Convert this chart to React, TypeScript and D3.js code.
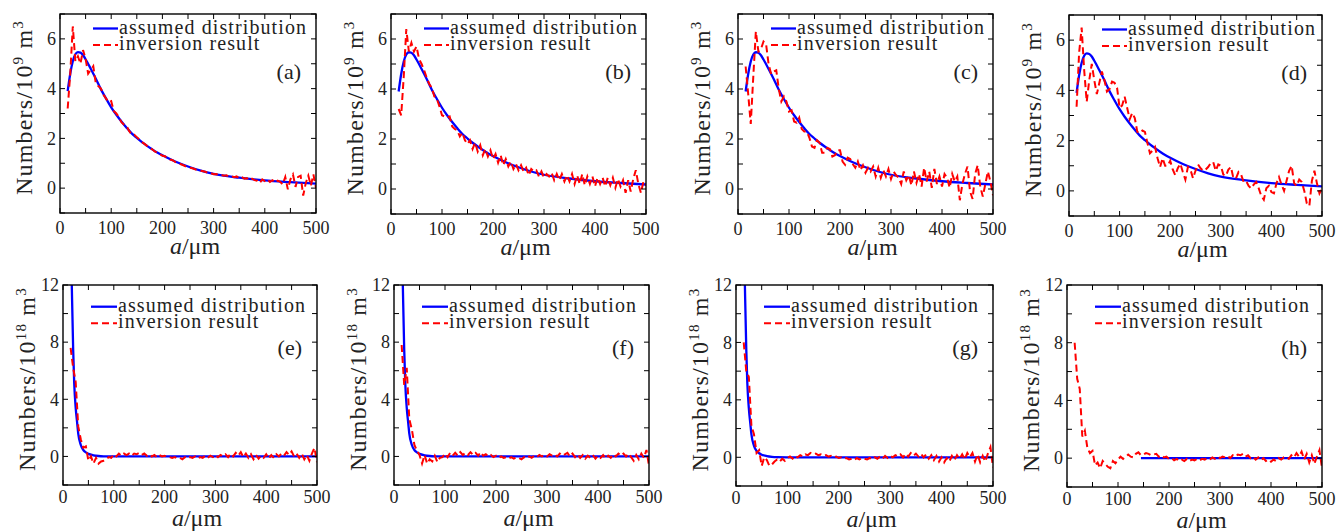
import React from 'react';
import * as d3 from 'd3';

// radius grid (um) of the inversion results
const sizeGrid = [
  15, 20, 25, 30, 35, 40, 45, 50, 55, 60,
  65, 70, 75, 80, 85, 90, 95, 100, 105, 110,
  115, 120, 125, 130, 135, 140, 145, 150, 155, 160,
  165, 170, 175, 180, 185, 190, 195, 200, 205, 210,
  215, 220, 225, 230, 235, 240, 245, 250, 255, 260,
  265, 270, 275, 280, 285, 290, 295, 300, 305, 310,
  315, 320, 325, 330, 335, 340, 345, 350, 355, 360,
  365, 370, 375, 380, 385, 390, 395, 400, 405, 410,
  415, 420, 425, 430, 435, 440, 445, 450, 455, 460,
  465, 470, 475, 480, 485, 490, 495, 500,
];

// assumed distributions
const topAssumedX = [15, 20, 25, 30, 35, 40, 45, 50, 60, 70, 80, 90, 100, 110, 120, 130, 140, 150, 160, 170, 180, 190, 200, 225, 250, 275, 300, 350, 400, 450, 500];
const topAssumed = [3.9, 4.6, 5.1, 5.38, 5.47, 5.45, 5.35, 5.18, 4.8, 4.4, 3.97, 3.6, 3.25, 2.95, 2.68, 2.43, 2.2, 2.02, 1.85, 1.7, 1.56, 1.43, 1.32, 1.07, 0.87, 0.7, 0.57, 0.42, 0.31, 0.24, 0.18];
const bottomAssumedX = [15, 17, 20, 22, 25, 28, 30, 35, 40, 45, 50, 60, 70, 80, 100, 150, 200, 300, 400, 500];
const bottomAssumed = [16, 12.5, 7.5, 5.2, 3.4, 2.3, 1.6, 0.8, 0.45, 0.28, 0.18, 0.08, 0.03, 0.01, 0, 0, 0, 0, 0, 0];
const hAssumedX = [145, 500];
const hAssumed = [0, 0];

// inversion results
const invA = [
  3.2, 4.6, 6.5, 5.1, 5.3, 5.0, 5.55, 5.2, 4.6, 4.75,
  4.9, 4.2, 4.1, 4.0, 3.75, 3.6, 3.45, 3.5, 3.1, 3.0,
  2.85, 2.65, 2.55, 2.5, 2.3, 2.15, 2.15, 2.05, 1.95, 1.85,
  1.78, 1.7, 1.62, 1.56, 1.48, 1.43, 1.37, 1.3, 1.28, 1.2,
  1.15, 1.12, 1.05, 1.0, 0.97, 0.93, 0.88, 0.86, 0.82, 0.79,
  0.75, 0.72, 0.7, 0.68, 0.65, 0.6, 0.6, 0.56, 0.57, 0.52,
  0.53, 0.5, 0.52, 0.46, 0.48, 0.44, 0.47, 0.4, 0.45, 0.38,
  0.4, 0.32, 0.38, 0.32, 0.3, 0.2, 0.35, 0.28, 0.35, 0.25,
  0.32, 0.22, 0.3, 0.25, 0.15, 0.45, -0.05, 0.35, 0.55, 0.05,
  0.45, 0.5, -0.3, 0.2, 0.5, 0.1, 0.55, 0.0,
];
const invB = [
  3.2, 2.95, 4.5, 6.4, 5.5, 5.85, 5.5, 5.7, 5.2, 5.0,
  4.75, 4.45, 4.2, 4.05, 3.7, 3.6, 3.3, 2.95, 2.9, 2.85,
  2.9, 2.5, 2.4, 2.35, 2.1, 2.25, 1.95, 1.8, 1.95, 1.6,
  1.85, 1.5, 1.75, 1.35, 1.6, 1.3, 1.55, 1.2, 1.4, 1.05,
  1.35, 0.95, 1.2, 0.9, 1.1, 0.8, 1.0, 0.75, 0.95, 0.7,
  0.85, 0.55, 0.8, 0.7, 0.75, 0.5, 0.7, 0.45, 0.6, 0.5,
  0.65, 0.35, 0.6, 0.35, 0.6, 0.3, 0.55, 0.3, 0.6, 0.2,
  0.55, 0.2, 0.6, 0.15, 0.5, 0.2, 0.5, 0.1, 0.45, 0.2,
  0.45, 0.1, 0.45, 0.15, 0.45, 0.05, 0.4, 0.1, 0.35, -0.15,
  0.35, -0.1, 0.4, 0.75, 0.2, -0.15, 0.3, 0.15,
];
const invC = [
  4.9, 3.8, 2.6, 4.5, 6.3, 5.5, 5.6, 5.9, 5.8, 5.0,
  4.6, 4.7, 4.75, 4.0, 3.5, 3.7, 3.5, 3.1, 3.15, 2.7,
  2.65, 2.85, 2.4, 2.3, 2.3, 2.05, 1.7, 1.65, 1.95, 1.85,
  1.45, 1.45, 1.65, 1.6, 1.3, 1.35, 1.55, 1.55, 1.1, 0.97,
  1.25, 1.2, 1.0, 0.85, 1.1, 0.75, 0.95, 0.65, 0.85, 0.7,
  0.9, 0.5, 0.85, 0.45, 0.75, 0.5, 0.8, 0.4, 0.7, 0.55,
  0.45, 0.2, 0.7, 0.35, 0.55, 0.15, 0.7, 0.25, 0.6, 0.1,
  0.85, 0.3, 0.7, 0.05, 0.8, 0.2, 0.5, 0.1, 0.6, 0.45,
  0.05, 0.6, 0.3, 0.5, -0.45, 0.2, 0.6, 0.9, -0.1, -0.4,
  0.6, 0.95, 0.1, -0.3, 0.2, 0.7, 0.3, -0.25,
];
const invD = [
  3.35, 5.5, 6.5, 4.8, 3.55, 4.4, 5.05, 4.4, 3.85, 4.3,
  4.75, 4.4, 3.95, 4.05, 4.35, 4.3, 4.1, 3.3, 3.4, 3.75,
  3.3, 2.85, 3.1, 2.9, 2.35, 2.3, 2.4, 2.35, 1.9, 1.5,
  1.6, 1.75, 1.3, 0.95, 1.3, 1.0, 1.0, 1.2, 0.85, 0.62,
  0.9, 1.08, 0.75, 0.45, 0.95, 0.85, 0.5, 0.8, 1.05, 0.9,
  0.8, 0.85, 0.95, 1.1, 1.15, 0.8, 1.05, 1.0, 0.65, 0.6,
  0.85, 0.95, 0.5, 0.5, 0.75, 0.65, 0.36, 0.4, 0.2, 0.1,
  0.25, 0.35, 0.1, -0.2, -0.35, 0.1, 0.2, -0.05, -0.1, 0.3,
  0.55, 0.25, 0.0, 0.4, 0.8, 1.0, 0.3, 0.2, 0.45, 0.35,
  0.0, -0.5, -0.6, 0.4, 0.8, 0.3, -0.1, 0.1,
];
const invE = [
  7.6, 6.2, 5.2, 2.1, 1.2, 0.6, 0.7, -0.3, 0.0, -0.5,
  -0.1, -0.5, -0.35, -0.3, -0.2, -0.05, -0.1, 0.15, 0.0, 0.2,
  0.05, 0.2, 0.1, 0.2, 0.05, 0.2, 0.15, 0.25, 0.1, 0.2,
  0.05, 0.15, 0.0, 0.1, -0.05, 0.1, 0.0, 0.05, -0.05, -0.05,
  -0.1, -0.05, -0.15, -0.1, -0.2, -0.05, -0.15, -0.05, -0.1, 0.0,
  -0.15, -0.05, -0.1, 0.05, -0.1, 0.05, -0.05, 0.1, -0.05, 0.1,
  0.0, 0.15, -0.05, 0.2, 0.0, 0.25, 0.05, 0.3, -0.05, 0.2,
  -0.1, 0.15, -0.2, 0.1, -0.15, 0.05, -0.1, 0.15, -0.15, 0.1,
  -0.1, 0.15, 0.0, 0.2, 0.05, 0.3, 0.1, 0.35, 0.0, 0.2,
  -0.1, 0.2, -0.2, 0.1, -0.3, 0.2, 0.6, -0.4,
];
const invF = [
  7.8, 5.0, 6.2, 2.6, 1.9, 0.8, 0.4, 0.1, -0.5, 0.1,
  -0.5, -0.2, -0.35, 0.05, -0.4, -0.1, -0.05, 0.2, -0.05, 0.25,
  0.05, 0.25, 0.05, 0.3, 0.1, 0.25, 0.1, 0.3, 0.1, 0.25,
  0.05, 0.3, 0.05, 0.15, 0.0, 0.1, -0.05, 0.05, -0.1, 0.0,
  -0.1, -0.05, -0.15, -0.05, -0.15, -0.05, -0.1, -0.2, -0.05, -0.15,
  0.0, -0.1, 0.05, -0.05, 0.1, 0.0, 0.1, 0.0, 0.15, 0.05,
  0.15, 0.0, 0.2, 0.05, 0.15, 0.25, 0.0, 0.2, -0.05, 0.15,
  -0.1, 0.1, -0.15, 0.05, -0.1, 0.1, -0.15, 0.05, -0.1, 0.1,
  -0.15, 0.05, -0.1, 0.15, 0.0, 0.2, 0.05, 0.2, 0.0, 0.2,
  -0.05, -0.3, 0.1, -0.2, 0.2, -0.1, 0.45, -0.65,
];
const invG = [
  8.0, 6.0, 5.6, 2.2, 1.6, 0.3, 0.5, -0.6, 0.0, -0.2,
  -0.6, -0.5, -0.3, -0.15, -0.3, -0.1, -0.25, -0.05, 0.05, -0.1,
  0.1, 0.0, 0.15, 0.05, 0.2, 0.15, 0.3, 0.2, 0.25, 0.15,
  0.2, 0.1, 0.15, 0.05, 0.1, 0.0, 0.05, -0.05, 0.0, -0.1,
  -0.05, -0.15, -0.1, -0.2, -0.05, -0.15, -0.05, -0.1, -0.15, -0.05,
  -0.15, 0.0, -0.1, 0.05, -0.1, 0.1, -0.05, 0.1, 0.0, 0.15,
  0.05, 0.2, 0.0, 0.25, 0.05, 0.3, 0.1, 0.25, 0.05, 0.25,
  0.0, 0.2, -0.1, 0.15, -0.2, 0.1, -0.3, 0.0, -0.35, -0.05,
  -0.3, 0.1, -0.2, 0.15, -0.1, 0.2, -0.15, 0.3, 0.0, 0.3,
  -0.3, 0.2, -0.35, 0.1, -0.3, 0.25, 0.7, -0.7,
];
const invH = [
  8.0, 5.5, 4.8, 1.5, 1.9, 0.7, 0.35, 0.5, -0.5, -0.3,
  -0.7, -0.2, -0.4, -0.6, -0.7, -0.2, -0.35, -0.1, 0.1, -0.05,
  0.1, 0.25, 0.1, 0.05, 0.3, 0.4, 0.2, 0.25, 0.35, 0.3,
  0.2, 0.25, 0.3, 0.1, 0.2, 0.05, 0.1, -0.05, 0.0, -0.15,
  -0.05, -0.2, -0.1, -0.2, -0.05, -0.2, -0.1, -0.15, -0.05, -0.15,
  -0.05, -0.1, 0.0, -0.1, 0.05, -0.05, 0.1, 0.0, 0.1, 0.05,
  0.15, 0.0, 0.2, 0.1, 0.25, 0.2, 0.3, 0.1, 0.2, 0.0,
  0.1, -0.1, 0.05, -0.15, 0.0, -0.2, -0.1, -0.25, -0.1, -0.2,
  0.0, -0.1, 0.05, 0.1, -0.05, 0.2, 0.05, 0.35, 0.1, 0.45,
  -0.1, 0.3, -0.3, 0.2, -0.4, 0.1, 0.55, -0.7,
];

const xTickLabels = [0, 100, 200, 300, 400, 500];
const topYTickLabels = [0, 2, 4, 6];
const bottomYTickLabels = [0, 4, 8, 12];
const legendLabels = ['assumed distribution', 'inversion result'];

const FONT = '"Liberation Serif", Tinos, "Times New Roman", "DejaVu Serif", "Noto Serif", serif';
const BLUE = '#0000ff';
const RED = '#ff0000';

type PanelSpec = {
  letter: string;
  box: [number, number, number, number];
  row: number;
  ax: number[];
  ay: number[];
  inv: number[];
};

const panels: PanelSpec[] = [
  { letter: 'a', box: [60, 14, 316, 213], row: 0, ax: topAssumedX, ay: topAssumed, inv: invA },
  { letter: 'b', box: [391, 14, 646, 214], row: 0, ax: topAssumedX, ay: topAssumed, inv: invB },
  { letter: 'c', box: [738, 14, 993, 214], row: 0, ax: topAssumedX, ay: topAssumed, inv: invC },
  { letter: 'd', box: [1069, 15, 1322, 216], row: 0, ax: topAssumedX, ay: topAssumed, inv: invD },
  { letter: 'e', box: [63, 285, 317, 485], row: 1, ax: bottomAssumedX, ay: bottomAssumed, inv: invE },
  { letter: 'f', box: [394, 285, 649, 485], row: 1, ax: bottomAssumedX, ay: bottomAssumed, inv: invF },
  { letter: 'g', box: [736, 285, 993, 486], row: 1, ax: bottomAssumedX, ay: bottomAssumed, inv: invG },
  { letter: 'h', box: [1067, 285, 1322, 487], row: 1, ax: hAssumedX, ay: hAssumed, inv: invH },
];

const Panel = ({ p }: { p: PanelSpec }) => {
  const [l, t, r, b] = p.box;
  const top = p.row === 0;
  const x = d3.scaleLinear().domain([0, 500]).range([l, r]);
  const y = d3.scaleLinear().domain(top ? [-1, 7] : [-2, 12]).range([b, t]);
  const xTicks = x.ticks(10);
  const yTicks = top ? y.ticks(8) : y.ticks(7);
  const yLabels = top ? topYTickLabels : bottomYTickLabels;
  const tk = 5;

  const blue = d3.line<number>()
    .x((_, i) => x(p.ax[i]))
    .y(d => y(d))
    .curve(d3.curveMonotoneX)(p.ay);
  const n = Math.min(sizeGrid.length, p.inv.length);
  const red = d3.line<number>()
    .x((_, i) => x(sizeGrid[i]))
    .y(d => y(d))(p.inv.slice(0, n));

  const lg = top
    ? { x0: l + 33, x1: l + 58, tx: l + 59, l1: t + 14.5, l2: t + 31, b1: t + 19.5, b2: t + 36 }
    : { x0: l + 28, x1: l + 54, tx: l + 55, l1: t + 21.7, l2: t + 38.3, b1: t + 26.7, b2: t + 43.3 };
  const clipId = `clip-${p.letter}`;

  return (
    <g fill="#222">
      <defs>
        <clipPath id={clipId}>
          <rect x={l} y={t} width={r - l} height={b - t} />
        </clipPath>
      </defs>

      <g clipPath={`url(#${clipId})`}>
        <path d={blue || ''} fill="none" stroke={BLUE} strokeWidth={2.3} />
        <path d={red || ''} fill="none" stroke={RED} strokeWidth={2} strokeDasharray="7,4" />
      </g>

      {/* ticks on all sides, inward */}
      {xTicks.map(v => (
        <g key={`xt${v}`} stroke="#000" strokeWidth={1}>
          <line x1={x(v)} x2={x(v)} y1={b} y2={b - tk} />
          <line x1={x(v)} x2={x(v)} y1={t} y2={t + tk} />
        </g>
      ))}
      {yTicks.map(v => (
        <g key={`yt${v}`} stroke="#000" strokeWidth={1}>
          <line x1={l} x2={l + tk} y1={y(v)} y2={y(v)} />
          <line x1={r} x2={r - tk} y1={y(v)} y2={y(v)} />
        </g>
      ))}
      <rect x={l} y={t} width={r - l} height={b - t} fill="none" stroke="#000" strokeWidth={1.4} />

      {xTickLabels.map(v => (
        <text key={`xl${v}`} x={x(v)} y={b + (top ? 21 : 18)} textAnchor="middle" fontSize={18}>{v}</text>
      ))}
      {yLabels.map(v => (
        <text key={`yl${v}`} x={l - 4} y={y(v)} dy="0.35em" textAnchor="end" fontSize={18}>{v}</text>
      ))}

      {/* legend */}
      <line x1={lg.x0} x2={lg.x1} y1={lg.l1} y2={lg.l1} stroke={BLUE} strokeWidth={2.3} />
      <line x1={lg.x0} x2={lg.x1} y1={lg.l2} y2={lg.l2} stroke={RED} strokeWidth={2} strokeDasharray="7,4" />
      <text x={lg.tx} y={lg.b1} fontSize={20} letterSpacing={1.1}>{legendLabels[0]}</text>
      <text x={lg.tx} y={lg.b2} fontSize={20} letterSpacing={1.1}>{legendLabels[1]}</text>

      <text x={r - 15} y={t + (top ? 65 : 70)} textAnchor="end" fontSize={22}>({p.letter})</text>

      {/* axis titles */}
      <text x={(l + r) / 2 + 7} y={b + (top ? 41 : 41)} textAnchor="middle" fontSize={24}>
        <tspan fontStyle="italic">a</tspan>/μm
      </text>
      <text
        transform={`translate(${l - 28},${(t + b) / 2 - 6}) rotate(-90)`}
        textAnchor="middle"
        fontSize={24}
        letterSpacing={1.2}
      >
        Numbers/10<tspan dy={-9} fontSize={15}>{top ? '9' : '18'}</tspan>
        <tspan dy={9}> m</tspan>
        <tspan dy={-9} fontSize={15}>3</tspan>
      </text>
    </g>
  );
};

export default function App() {
  return (
    <svg
      width={1338}
      height={532}
      style={{ position: 'absolute', left: 0, top: 0, background: '#fff', fontFamily: FONT }}
    >
      <rect width={1338} height={532} fill="#fff" />
      {panels.map(p => <Panel key={p.letter} p={p} />)}
    </svg>
  );
}
